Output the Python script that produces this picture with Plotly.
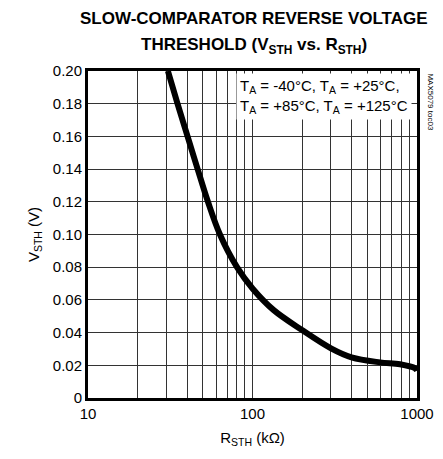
import plotly.graph_objects as go

# Data (R in kOhm, V in volts)
r_kohm = [30.6, 35.0, 40.3, 46.4, 53.6, 63.4, 80.5, 100, 134, 200, 300, 400, 596, 788, 972, 1000]
v_sth = [0.200, 0.180, 0.160, 0.140, 0.120, 0.100, 0.0800, 0.0670, 0.0539, 0.0416, 0.0304, 0.0249, 0.0218, 0.0206, 0.0182, 0.0167]

x_tickvals = [10, 100, 1000]
x_ticktext = ["10", "100", "1000"]
y_tickvals = [0, 0.02, 0.04, 0.06, 0.08, 0.10, 0.12, 0.14, 0.16, 0.18, 0.20]
y_ticktext = ["0", "0.02", "0.04", "0.06", "0.08", "0.10", "0.12", "0.14", "0.16", "0.18", "0.20"]
x_minor = [20, 30, 40, 50, 60, 70, 80, 90, 200, 300, 400, 500, 600, 700, 800, 900]

title_line1 = "<b>SLOW-COMPARATOR REVERSE VOLTAGE</b>"
title_line2 = "<b>THRESHOLD (V<sub>STH</sub> vs. R<sub>STH</sub>)</b>"

FONT = "Liberation Sans, Arial, sans-serif"
H_PLOT = 459 - 71 - 61

fig = go.Figure()
fig.add_trace(go.Scatter(x=r_kohm, y=v_sth, mode="lines",
                         line=dict(color="black", width=6, shape="spline", smoothing=1.0),
                         showlegend=False, hoverinfo="skip", cliponaxis=True))

fig.update_layout(
    width=443, height=459,
    margin=dict(l=88, r=26, t=71, b=61),
    paper_bgcolor="white", plot_bgcolor="white",
    font=dict(family=FONT, size=14, color="black"),
    xaxis=dict(type="log", range=[1, 3], tickvals=x_tickvals, ticktext=x_ticktext,
               showgrid=True, gridcolor="#333", gridwidth=1,
               minor=dict(tickvals=x_minor, showgrid=True, gridcolor="#333", gridwidth=1, ticks=""),
               showline=True, linecolor="black", linewidth=3, mirror=True,
               ticks="", tickfont=dict(size=15), automargin=False,
               title=dict(text="R<sub>STH</sub> (kΩ)", font=dict(size=15), standoff=12),
               zeroline=False),
    yaxis=dict(range=[0, 0.2], tickvals=y_tickvals, ticktext=y_ticktext,
               showgrid=True, gridcolor="#333", gridwidth=1,
               showline=True, linecolor="black", linewidth=3, mirror=True,
               ticks="", tickfont=dict(size=15), automargin=False,
               title=dict(text="V<sub>STH</sub> (V)", font=dict(size=15), standoff=10),
               zeroline=False),
)

# Title lines
fig.add_annotation(xref="paper", yref="paper", x=0.505, y=1 + (71 - 18) / H_PLOT,
                   xanchor="center", yanchor="middle", text=title_line1, showarrow=False,
                   font=dict(family=FONT, size=17, color="black"))
fig.add_annotation(xref="paper", yref="paper", x=0.505, y=1 + (71 - 46) / H_PLOT,
                   xanchor="center", yanchor="middle", text=title_line2, showarrow=False,
                   font=dict(family=FONT, size=17, color="black"))

fig.add_annotation(xref="paper", yref="paper", x=0.985, y=0.993, xanchor="right", yanchor="top",
                   text="T<sub>A</sub> = -40°C, T<sub>A</sub> = +25°C,<br>T<sub>A</sub> = +85°C, T<sub>A</sub> = +125°C",
                   showarrow=False, align="left", bgcolor="white", borderpad=3,
                   font=dict(family=FONT, size=15, color="black"))

fig.add_annotation(xref="paper", yref="paper", x=1.02, y=1.0, xanchor="left", yanchor="top",
                   text="MAX5079 toc03", textangle=90, showarrow=False,
                   font=dict(family=FONT, size=8, color="black"))

fig.write_html("out.html", config={"displayModeBar": False},
               post_script="document.body.style.margin='0';document.body.style.overflow='hidden';")
